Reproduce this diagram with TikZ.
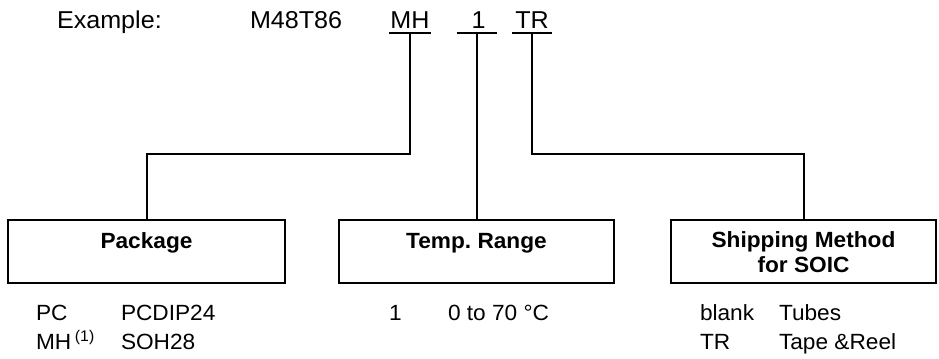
\documentclass[tikz,border=0pt]{standalone}
\usepackage{fontspec}
\setmainfont{Liberation Sans}[FakeStretch=1.03]
\usetikzlibrary{positioning}
\tikzset{code/.style={font=\fontsize{12.2}{14}\selectfont,inner sep=0pt,text depth=2pt,minimum width=19pt,anchor=base},
 top/.style={font=\fontsize{12.2}{14}\selectfont,inner sep=0pt,anchor=base west},
 box/.style={draw,inner sep=0pt,minimum height=31.5pt},
 head/.style={font=\bfseries,inner sep=0pt,anchor=base,align=center},
 entry/.style={inner sep=0pt,anchor=base west}}
\begin{document}
\frenchspacing\fontsize{11}{12.5}\selectfont
\begin{tikzpicture}[x=0.5pt,y=-0.5pt,line width=1pt]
\useasboundingbox (0,0) rectangle (939,359);
\node[top] (ex) at (56,28) {Example:}; \node[top] (dev) at (249,28) {M48T86};
\node[code] (mh) at (410,28) {MH}; \node[code] (tmp) at (476.5,28) {\,1}; \node[code] (tr) at (532,28) {TR};
\foreach \n in {mh,tmp,tr} \draw (\n.south west) -- (\n.south east);
\node[box,minimum width=138.5pt] (pkg) at (146.5,251.5) {};
\node[box,minimum width=137.5pt] (rng) at (476.5,251.5) {};
\node[box,minimum width=132.5pt] (ship) at (803.5,251.5) {};
\node[head] (pkgh) at ([yshift=-14.5pt]pkg.north) {Package};
\node[head] (rngh) at ([yshift=-14.5pt]rng.north) {Temp.\ Range};
\node[head] (shiph) at ([yshift=-26.5pt]ship.north) {Shipping Method\\for SOIC};
\coordinate (bend) at (0,154);
\draw (mh.south) -- (mh.south |- bend) -| (pkg.north);
\draw (tmp.south) -- (rng.north);
\draw (tr.south) -- (tr.south |- bend) -| (ship.north);
\node[entry] (pc) at (35,320) {PC}; \node[entry] (pcd) at (120,320) {PCDIP24};
\node[entry] (mh1) at (35,349) {MH\,\textsuperscript{(1)}}; \node[entry] (mhd) at (120,349) {SOH28};
\node[entry] (t1) at (388,320) {1}; \node[entry] (t1d) at (447,320) {0 to 70 °C};
\node[entry] (bl) at (699,320) {blank}; \node[entry] (bld) at (778,320) {Tubes};
\node[entry] (tr1) at (699,349) {TR}; \node[entry] (tr1d) at (778,349) {Tape \&Reel};
\end{tikzpicture}
\end{document}
